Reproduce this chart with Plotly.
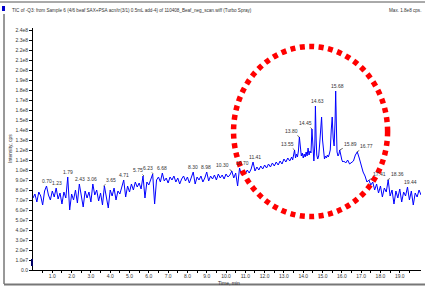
import plotly.graph_objects as go

# ---------------- data (intensity in units of 1e6 cps) ----------------
times_a = [
    0.0, 0.1, 0.2, 0.3, 0.4, 0.5, 0.6, 0.7, 0.8, 0.9,
    1.0, 1.1, 1.2, 1.3, 1.4, 1.5, 1.6, 1.7, 1.8, 1.9,
    2.0, 2.1, 2.2, 2.3, 2.4, 2.5, 2.6, 2.7, 2.8, 2.9,
    3.0, 3.1, 3.2, 3.3, 3.4, 3.5, 3.6, 3.7, 3.8, 3.9,
    4.0, 4.1, 4.2, 4.3, 4.4, 4.5, 4.6, 4.7, 4.8, 4.9,
    5.0, 5.1, 5.2, 5.3, 5.4, 5.5, 5.6, 5.7, 5.8, 5.9,
    6.0, 6.1, 6.2, 6.3, 6.4, 6.5, 6.6, 6.7, 6.8, 6.9,
    7.0, 7.1, 7.2, 7.3, 7.4, 7.5, 7.6, 7.7, 7.8, 7.9,
    8.0, 8.1, 8.2, 8.3, 8.4, 8.5, 8.6, 8.7, 8.8, 8.9,
    9.0, 9.1, 9.2, 9.3, 9.4, 9.5, 9.6, 9.7, 9.8, 9.9,
    10.0, 10.1, 10.2, 10.3, 10.4, 10.5, 10.6, 10.7, 10.8, 10.9,
    11.0, 11.1, 11.2, 11.3, 11.4, 11.5, 11.6, 11.7, 11.8, 11.9,
    12.0, 12.1, 12.2, 12.3, 12.4, 12.5, 12.6, 12.7, 12.8, 12.9,
    13.0, 13.1, 13.2, 13.3, 13.4,
]
values_a = [
    72, 76, 68, 78, 74, 65, 79, 84, 75, 70,
    79, 73, 82, 71, 77, 66, 78, 72, 93, 60,
    76, 70, 80, 67, 86, 74, 63, 79, 72, 78,
    68, 86, 75, 80, 69, 77, 65, 84, 72, 62,
    80, 74, 82, 70, 79, 76, 83, 90, 73, 84,
    78, 86, 80, 88, 83, 87, 81, 94, 72, 88,
    85, 91, 96, 66, 90, 93, 88, 97, 89, 92,
    87, 93, 90, 94, 88, 92, 86, 91, 94, 89,
    93, 87, 92, 98, 86, 93, 90, 94, 88, 92,
    98, 89, 94, 91, 95, 90, 96, 92, 95, 91,
    96, 93, 95, 99, 92, 97, 84, 102, 95, 99,
    96, 100, 97, 101, 108, 99, 103, 100, 104, 101,
    105, 102, 106, 103, 107, 104, 108, 105, 109, 106,
    111, 108, 112, 109, 113,
]
times_b = [
    13.45, 13.5, 13.55, 13.6, 13.65, 13.7, 13.75, 13.8, 13.85, 13.9,
    13.95, 14.0, 14.05, 14.1, 14.15, 14.2, 14.25, 14.3, 14.35, 14.4,
    14.45, 14.5, 14.55, 14.6, 14.63, 14.67, 14.7, 14.75, 14.8, 14.85,
    14.9, 14.95, 15.0, 15.05, 15.1, 15.15, 15.2, 15.25, 15.3, 15.35,
    15.4, 15.45, 15.5, 15.55, 15.6, 15.65, 15.68, 15.72, 15.75, 15.8,
    15.85, 15.89, 15.95, 16.0, 16.05,
]
values_b = [
    110, 115, 120, 112, 116, 113, 119, 133, 118, 114,
    117, 112, 116, 113, 118, 114, 122, 115, 119, 117,
    141, 118, 109, 125, 164, 130, 115, 111, 114, 126,
    145, 153, 130, 116, 111, 114, 112, 115, 113, 116,
    120, 140, 153, 132, 124, 150, 179, 142, 118, 114,
    116, 120, 113, 110, 108,
]
times_c = [
    16.1, 16.2, 16.3, 16.4, 16.5, 16.6, 16.7, 16.8, 16.9, 17.0,
    17.1, 17.2, 17.3, 17.4, 17.5, 17.6, 17.7, 17.8, 17.9, 18.0,
    18.1, 18.2, 18.3, 18.4, 18.5, 18.6, 18.7, 18.8, 18.9, 19.0,
    19.1, 19.2, 19.3, 19.4, 19.5, 19.6, 19.7, 19.8, 19.9, 20.0,
    20.1,
]
values_c = [
    109, 107, 110, 106, 108, 109, 115, 118, 112, 104,
    98, 94, 88, 90, 85, 88, 80, 86, 77, 84,
    73, 82, 78, 90, 74, 80, 66, 79, 72, 81,
    68, 78, 74, 83, 70, 79, 65, 77, 73, 80,
    75,
]

peak_labels = ["0.70", "1.23", "1.79", "2.43", "3.06", "3.65", "4.71", "5.75",
               "6.23", "6.68", "8.30", "8.98", "10.30", "10.70", "11.41",
               "13.55", "13.80", "14.45", "14.63", "15.68", "15.89", "16.77",
               "17.41", "18.36", "19.44"]
peak_times = [0.70, 1.23, 1.79, 2.43, 3.06, 3.65, 4.71, 5.75,
              6.23, 6.68, 8.30, 8.98, 10.30, 10.70, 11.41,
              13.55, 13.80, 14.45, 14.63, 15.68, 15.89, 16.77,
              17.41, 18.36, 19.44]

y_tickvals = [0, 1e7, 2e7, 3e7, 4e7, 5e7, 6e7, 7e7, 8e7, 9e7, 1e8, 1.1e8, 1.2e8,
              1.3e8, 1.4e8, 1.5e8, 1.6e8, 1.7e8, 1.8e8, 1.9e8, 2.0e8, 2.1e8,
              2.2e8, 2.3e8, 2.4e8]
y_ticktext = ["0.0", "1.0e7", "2.0e7", "3.0e7", "4.0e7", "5.0e7", "6.0e7", "7.0e7",
              "8.0e7", "9.0e7", "1.0e8", "1.1e8", "1.2e8", "1.3e8", "1.4e8", "1.5e8",
              "1.6e8", "1.7e8", "1.8e8", "1.9e8", "2.0e8", "2.1e8", "2.2e8", "2.3e8",
              "2.4e8"]
x_tickvals = [1, 2, 3, 4, 5, 6, 7, 8, 9, 10, 11, 12, 13, 14, 15, 16, 17, 18, 19]
x_ticktext = ["1.0", "2.0", "3.0", "4.0", "5.0", "6.0", "7.0", "8.0", "9.0", "10.0",
              "11.0", "12.0", "13.0", "14.0", "15.0", "16.0", "17.0", "18.0", "19.0"]

title_text = ("TIC of -Q3: from Sample 6 (4/6 beaf SAX+PSA acn/tr(3/1) 0.5mL add-4) "
              "of 110408_Beaf_neg_scan.wiff (Turbo Spray)")
max_text = "Max. 1.8e8 cps."

# ---------------- styles ----------------
label_dx = [0, 0, 0, 0, 0, 8, 0, -6, -5, 0, 0, 0, -9, 3, 2,
            -7, -8, -6, 2, 2, 11, 10, 10, 10, 2]
label_leader = [False, False, False, False, False, True, False, True, True, False,
                False, False, True, False, False, True, True, True, False, False,
                True, True, True, True, False]

W, H = 425, 286
ML, MR, MT, MB = 33, 4, 28, 16
PW, PH = W - ML - MR, H - MT - MB


def px_x(p):
    return (p - ML) / PW


def px_y(p):
    return (H - MB - p) / PH


times = times_a + times_b + times_c
intensity = [v * 1e6 for v in values_a + values_b + values_c]

FONT = "Liberation Sans, Arial, sans-serif"
TXT = "#333333"

fig = go.Figure()
fig.add_trace(go.Scatter(x=times, y=intensity, mode="lines",
                         line=dict(color="#0000FF", width=1), hoverinfo="skip"))

annotations = []
for t, txt, dx, lead in zip(peak_times, peak_labels, label_dx, label_leader):
    ymax = max(v for tt, v in zip(times, intensity) if abs(tt - t) <= 0.061)
    if lead:
        annotations.append(dict(x=t, y=ymax, xref="x", yref="y", text=txt,
                                showarrow=True, arrowhead=0, arrowwidth=0.6,
                                arrowcolor="#000000", ax=dx, ay=-6, standoff=0,
                                font=dict(family=FONT, size=5, color=TXT)))
    else:
        annotations.append(dict(x=t, y=ymax, xref="x", yref="y", text=txt,
                                showarrow=False, yanchor="bottom", xshift=dx,
                                yshift=0, font=dict(family=FONT, size=5, color=TXT)))

annotations += [
    dict(x=px_x(10), y=px_y(10), xref="paper", yref="paper", text=title_text,
         showarrow=False, xanchor="left", yanchor="middle",
         font=dict(family=FONT, size=4.6, color=TXT)),
    dict(x=px_x(423), y=px_y(10), xref="paper", yref="paper", text=max_text,
         showarrow=False, xanchor="right", yanchor="middle",
         font=dict(family=FONT, size=4.6, color=TXT)),
    dict(x=px_x(10), y=0.5, xref="paper", yref="paper", text="Intensity, cps",
         showarrow=False, textangle=-90, xanchor="center", yanchor="middle",
         font=dict(family=FONT, size=5, color=TXT)),
    dict(x=px_x(229), y=px_y(282.5), xref="paper", yref="paper", text="Time, min",
         showarrow=False, xanchor="center", yanchor="middle",
         font=dict(family=FONT, size=5, color=TXT)),
]

shapes = [
    # highlight ellipse
    dict(type="circle", xref="x", yref="y", x0=10.39, x1=18.37, y0=5.35e7, y1=2.235e8,
         line=dict(color="#FF0000", width=5.5, dash="5px,4.5px"), layer="above"),
    # window frame
    dict(type="line", xref="paper", yref="paper", x0=px_x(4), x1=px_x(4),
         y0=px_y(14), y1=px_y(284), line=dict(color="#333333", width=1)),
    dict(type="line", xref="paper", yref="paper", x0=px_x(4), x1=px_x(425),
         y0=px_y(284.5), y1=px_y(284.5), line=dict(color="#777777", width=2)),
    dict(type="line", xref="paper", yref="paper", x0=px_x(0), x1=px_x(425),
         y0=px_y(2), y1=px_y(2), line=dict(color="#555555", width=1)),
    # blue square
    dict(type="rect", xref="paper", yref="paper", x0=px_x(2), x1=px_x(5),
         y0=px_y(11), y1=px_y(6), fillcolor="#0000CC", line=dict(width=0)),
    # small marker on y axis
    dict(type="rect", xref="paper", yref="paper", x0=px_x(31), x1=px_x(33),
         y0=px_y(266), y1=px_y(259), fillcolor="#000066", line=dict(width=0)),
]

fig.update_layout(
    width=W, height=H,
    margin=dict(l=ML, r=MR, t=MT, b=MB, pad=0),
    paper_bgcolor="white", plot_bgcolor="white",
    showlegend=False,
    annotations=annotations,
    shapes=shapes,
    xaxis=dict(range=[0, 20.1], tickmode="array", tickvals=x_tickvals,
               ticktext=x_ticktext, ticks="outside", ticklen=2, tickwidth=1,
               tickcolor="#000000", showline=True, linecolor="#000000", linewidth=1,
               showgrid=False, zeroline=False, automargin=False,
               ticklabelstandoff=-1,
               tickfont=dict(family=FONT, size=5, color=TXT),
               minor=dict(tickmode="linear", tick0=0.5, dtick=1, ticks="outside",
                          ticklen=2, tickcolor="#000000", showgrid=False)),
    yaxis=dict(range=[0, 2.42e8], tickmode="array", tickvals=y_tickvals,
               ticktext=y_ticktext, ticks="outside", ticklen=3, tickwidth=1,
               tickcolor="#000000", showline=True, linecolor="#000000", linewidth=1,
               showgrid=False, zeroline=False, automargin=False,
               tickfont=dict(family=FONT, size=5, color=TXT)),
)

fig.write_html("out.html", config={"displayModeBar": False},
               post_script="document.body.style.margin='0';document.body.style.overflow='hidden';")
